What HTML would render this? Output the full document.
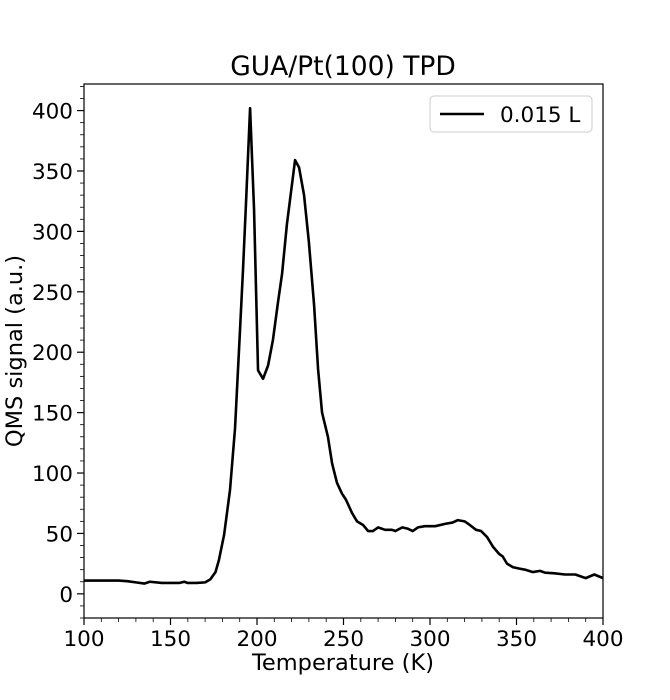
<!DOCTYPE html>
<html><head><meta charset="utf-8"><style>
body{margin:0;background:#fff;font-family:"Liberation Sans","DejaVu Sans",sans-serif}
svg text{font-family:"DejaVu Sans","Liberation Sans",sans-serif}
</style></head><body>
<svg width="670" height="695" xmlns="http://www.w3.org/2000/svg">
<g id="root"></g>
</svg>
<script>
const temps=[100,110,120,125,130,135,138,145,155,158,160,165,170,173,176,178,181,184.4,187.3,190.2,191.9,193.6,196,198.3,200.6,203.5,206.4,209.2,212.1,214.5,217.3,222,224.3,227.2,230,233,235.3,237.6,241,243.4,246.2,249.1,251.4,254.9,257.8,261.3,264.2,267,270,274,278,280,284,287,290,293,297,303,309,313,316,320,323,326.6,329.5,333,336.4,340,342,344.5,348,351.4,354.9,359.5,363.6,366.5,372,378,384,390,395,400];
const signal=[11,11,11,10.5,9.5,8.5,10,9,9,10,9,9,9.5,12,18,28,49,86,137,219,268,322,402,318,185,178,189,210,241,265,306,359,353,330,291,239,186,150,130,108,92,83,78,67,60,57,52,52,55,53,53,52,55,54,52,55,56,56,58,59,61,60,57,53,52,47,39,33,31,25,22,21,20,18,19,17.5,17,16,16,13,16,13];
const xTicks=[100,150,200,250,300,350,400];
const yTicks=[0,50,100,150,200,250,300,350,400];
const L=84,R=603,T=84,B=618,xmin=100,xmax=400,ymin=-20,ymax=422;
const X=t=>L+(t-xmin)/(xmax-xmin)*(R-L);
const Y=v=>B-(v-ymin)/(ymax-ymin)*(B-T);
const NS="http://www.w3.org/2000/svg",root=document.getElementById('root');
function mk(tag,attrs,parent){const e=document.createElementNS(NS,tag);for(const k in attrs)e.setAttribute(k,attrs[k]);(parent||root).appendChild(e);return e;}
let e;
e=mk('text',{x:343,y:75,'text-anchor':'middle','font-size':'26.5'});e.textContent='GUA/Pt(100) TPD';


for(let t=100;t<=400;t+=10){const big=t%50===0;e=mk('line',{x1:X(t),x2:X(t),y1:B,y2:B+(big?7:4),stroke:'#000','stroke-width':big?1.2:0.8});

}
for(let v=-20;v<=420;v+=10){const big=v%50===0;e=mk('line',{x1:L,x2:L-(big?7:4),y1:Y(v),y2:Y(v),stroke:'#000','stroke-width':big?1.2:0.8});

}
xTicks.forEach(t=>{e=mk('text',{x:X(t),y:B+28,'text-anchor':'middle','font-size':'21.5'});e.textContent=t;

});
yTicks.forEach(v=>{e=mk('text',{x:L-11,y:Y(v)+8,'text-anchor':'end','font-size':'21.5'});e.textContent=v;

});
e=mk('text',{x:343,y:670,'text-anchor':'middle','font-size':'22.5'});e.textContent='Temperature (K)';


e=mk('text',{x:0,y:0,'text-anchor':'middle','font-size':'22.5',transform:'translate(22,351) rotate(-90)'});e.textContent='QMS signal (a.u.)';


e=mk('polyline',{points:temps.map((t,i)=>X(t)+','+Y(signal[i])).join(' '),fill:'none',stroke:'#000','stroke-width':2.6,'stroke-linejoin':'round'});


e=mk('rect',{x:L,y:T,width:R-L,height:B-T,fill:'none',stroke:'#000','stroke-width':1.2});


const lg=mk('g',{});


mk('rect',{x:430,y:96,width:162,height:36,rx:4,fill:'#fff',stroke:'#ccc','stroke-width':1},lg);
mk('line',{x1:440,x2:484,y1:114,y2:114,stroke:'#000','stroke-width':2.6},lg);
e=mk('text',{x:500,y:122,'font-size':'21.5'},lg);e.textContent='0.015 L';


</script>
</body></html>
